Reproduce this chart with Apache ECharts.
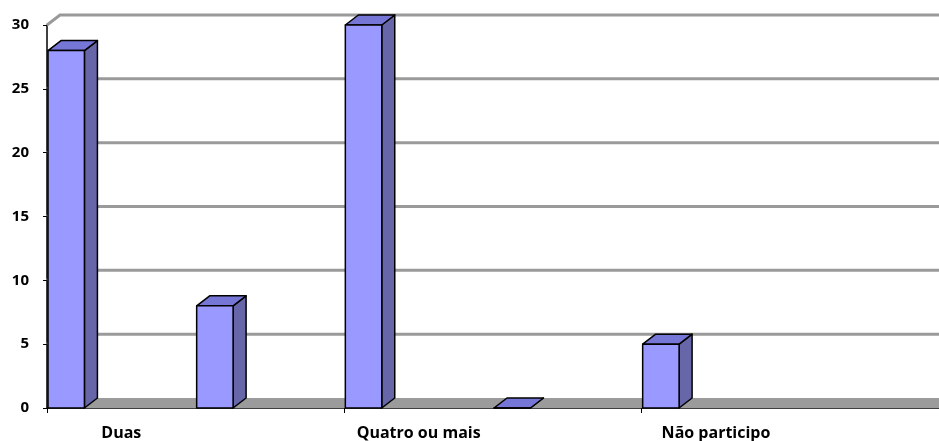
<!DOCTYPE html>
<html><head><meta charset="utf-8">
<script src="https://cdn.jsdelivr.net/npm/echarts@6/dist/echarts.min.js"></script>
<style>html,body{margin:0;padding:0;background:#fff}#c{width:939px;height:441px}</style>
</head><body><div id="c"></div>
<script>
var categories = ["Duas", "Três", "Quatro ou mais", "Nenhuma", "Não participo", "Outra"];
var values = [28, 8, 30, 0, 5, null];
var yTicks = [0, 5, 10, 15, 20, 25, 30];

var DX = 13, DY = 10;
var chart = echarts.init(document.getElementById('c'));

function wallItem(params, api) {
  var cs = params.coordSys;
  var v = api.value(0);
  var p = api.coord([0, v]);
  var x0 = cs.x, x1 = cs.x + cs.width + DX;
  var y = p[1];
  var children = [];
  if (v === 0) {
    children.push({type: 'polygon', shape: {points: [[x0, y], [x0 + DX, y - DY], [x1, y - DY], [x1, y]]},
      style: {fill: '#9b9b9b', stroke: null}});
  } else {
    children.push({type: 'polyline', shape: {points: [[x0, y], [x0 + DX, y - DY], [x1, y - DY]]},
      style: {fill: null, stroke: '#9a9a9a', lineWidth: 3}});
  }
  return {type: 'group', children: children};
}

function barItem(params, api) {
  var idx = api.value(0);
  var v = api.value(1);
  if (v == null || isNaN(v)) return null;
  var pB = api.coord([idx, 0]);
  var pT = api.coord([idx, v]);
  var band = api.size([1, 0])[0];
  var left = pB[0] - band / 2 + 1;
  var w = band * 0.245;
  var yB = pB[1], yT = pT[1];
  var st = {stroke: '#000', lineWidth: 1.5, lineJoin: 'round'};
  return {type: 'group', children: [
    {type: 'polygon', shape: {points: [[left + w, yT], [left + w + DX, yT - DY], [left + w + DX, yB - DY], [left + w, yB]]},
      style: Object.assign({fill: '#6666a8'}, st)},
    {type: 'polygon', shape: {points: [[left, yT], [left + DX, yT - DY], [left + w + DX, yT - DY], [left + w, yT]]},
      style: Object.assign({fill: '#7676d6'}, st)},
    {type: 'rect', shape: {x: left, y: yT, width: w, height: yB - yT},
      style: Object.assign({fill: '#9999ff'}, st)}
  ]};
}

var barData = values.map(function (v, i) { return [i, v]; });

chart.setOption({
  animation: false,
  grid: {left: 47, right: 0, top: 25, bottom: 33, containLabel: false},
  xAxis: {
    type: 'category', data: categories, boundaryGap: true,
    axisLine: {lineStyle: {color: '#000', width: 1.5}},
    axisTick: {show: true, length: 5, lineStyle: {color: '#000'}},
    axisLabel: {interval: 1, color: '#000', fontWeight: 'bold', fontSize: 16,
      fontFamily: 'Open Sans', margin: 17},
    splitLine: {show: false}
  },
  yAxis: {
    type: 'value', min: 0, max: 30, interval: 5,
    axisLine: {show: true, lineStyle: {color: '#000', width: 1.5}},
    axisTick: {show: true, length: 4, lineStyle: {color: '#000'}},
    axisLabel: {color: '#000', fontWeight: 'bold', fontSize: 15, fontFamily: 'Open Sans', margin: 18},
    splitLine: {show: false}
  },
  series: [
    {type: 'custom', z: 1, clip: false, renderItem: wallItem,
      data: yTicks.map(function (t) { return [t]; }), encode: {y: 0}, silent: true},
    {type: 'custom', z: 3, clip: false, renderItem: barItem, data: barData, encode: {x: 0, y: 1}}
  ]
});
</script></body></html>
